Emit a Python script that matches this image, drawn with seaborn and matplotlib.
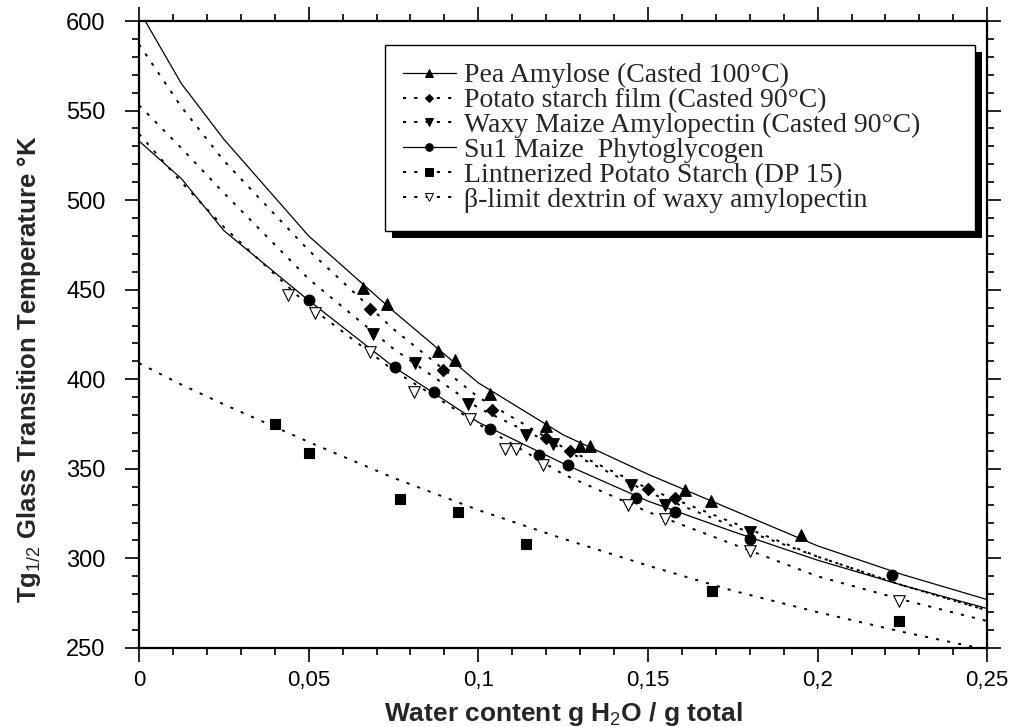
import numpy as np
import pandas as pd
import matplotlib
matplotlib.use('Agg')
import matplotlib.pyplot as plt
import seaborn as sns
from matplotlib.lines import Line2D
from matplotlib.patches import Rectangle
from matplotlib.ticker import FixedLocator, MultipleLocator

# --- fitted curves ---
curve_x = [0, 0.0125, 0.025, 0.05, 0.075, 0.1, 0.125, 0.15, 0.175, 0.2, 0.225, 0.25]
pea_curve = [606, 565, 534, 480, 438, 398, 369, 347, 327, 307, 291, 277]
potato_curve = [587, 552, 522, 472, 428, 390, 362, 339, 320, 301, 285, 271]
waxy_curve = [553, 529, 504, 456, 417, 384, 361, 337, 318, 301, 285, 271]
su1_curve = [533, 512, 483, 444, 407, 376, 353, 332, 315, 299, 285, 272]
lint_curve = [409, 397, 386, 365, 345, 327, 311, 296, 282, 270, 259, 249]
beta_curve = [537, 510, 485, 441, 405, 375, 347, 326, 308, 290, 277, 265]

# --- measured points ---
pea_x = [0.066, 0.073, 0.088, 0.093, 0.1035, 0.12, 0.13, 0.133, 0.161, 0.1685, 0.195]
pea_y = [451, 442, 416, 411, 392, 374, 363, 363, 338, 332, 313]
potato_x = [0.068, 0.0895, 0.104, 0.12, 0.127, 0.150, 0.158]
potato_y = [439, 405, 383, 367, 360, 339, 334]
waxy_x = [0.069, 0.0814, 0.097, 0.114, 0.122, 0.145, 0.155, 0.180]
waxy_y = [425, 409, 386, 369, 364, 341, 330, 315]
su1_x = [0.050, 0.0755, 0.087, 0.1035, 0.118, 0.1265, 0.1465, 0.158, 0.180, 0.222]
su1_y = [444, 407, 393, 372, 358, 352, 334, 326, 311, 291]
lint_x = [0.040, 0.050, 0.077, 0.094, 0.114, 0.169, 0.224]
lint_y = [375, 359, 333, 326, 308, 282, 265]
beta_x = [0.044, 0.052, 0.068, 0.081, 0.0975, 0.108, 0.111, 0.119, 0.144, 0.155, 0.180, 0.224]
beta_y = [447, 437, 415, 393, 378, 361, 361, 352, 330, 322, 304, 276]

labels = ["Pea Amylose (Casted 100°C)", "Potato starch film (Casted 90°C)",
          "Waxy Maize Amylopectin (Casted 90°C)", "Su1 Maize  Phytoglycogen",
          "Lintnerized Potato Starch (DP 15)", "β-limit dextrin of waxy amylopectin"]

xtick_vals = [0, 0.05, 0.1, 0.15, 0.2, 0.25]
xtick_labels = ["0", "0,05", "0,1", "0,15", "0,2", "0,25"]
ytick_vals = [250, 300, 350, 400, 450, 500, 550, 600]

sns.set_theme(style="ticks")
plt.rcParams['font.family'] = ['Liberation Sans', 'DejaVu Sans']
plt.rcParams['mathtext.fontset'] = 'custom'
plt.rcParams['mathtext.rm'] = 'Liberation Sans'
plt.rcParams['mathtext.bf'] = 'Liberation Sans:bold'

fig = plt.figure(figsize=(10.11, 7.27), dpi=100)
ax = fig.add_axes([0.1375, 0.1087, 0.839, 0.8624])

dot = (0, (1.6, 4.2))
series = [
    (curve_x, pea_curve, pea_x, pea_y, '-', '^', 'black'),
    (curve_x, potato_curve, potato_x, potato_y, dot, 'D', 'black'),
    (curve_x, waxy_curve, waxy_x, waxy_y, dot, 'v', 'black'),
    (curve_x, su1_curve, su1_x, su1_y, '-', 'o', 'black'),
    (curve_x, lint_curve, lint_x, lint_y, dot, 's', 'black'),
    (curve_x, beta_curve, beta_x, beta_y, dot, 'v', 'white'),
]
msizes = {'^': 70, 'D': 38, 'v': 70, 'o': 60, 's': 60}

handles = []
for cx, cy, px, py, ls, mk, fc in series:
    lw = 0.9 if ls == '-' else 1.4
    sns.lineplot(x=cx, y=cy, ax=ax, color='black', linewidth=lw, linestyle=ls,
                 estimator=None, sort=False)
    sns.scatterplot(x=px, y=py, ax=ax, marker=mk, s=msizes[mk], color=fc,
                    edgecolor='black', linewidth=0.8, zorder=3)
    handles.append(Line2D([0], [0], color='black', linewidth=lw, linestyle=ls,
                          marker=mk, markersize=5.5 if mk != 'D' else 4.5,
                          markerfacecolor=fc, markeredgecolor='black', markeredgewidth=0.7))

ax.set_xlim(0, 0.25)
ax.set_ylim(250, 600)
ax.xaxis.set_major_locator(FixedLocator(xtick_vals))
ax.set_xticklabels(xtick_labels)
ax.xaxis.set_minor_locator(MultipleLocator(0.01))
ax.yaxis.set_major_locator(FixedLocator(ytick_vals))
ax.yaxis.set_minor_locator(MultipleLocator(10))
ax.tick_params(which='both', direction='out', top=True, right=True, width=1.2,
               colors='black')
ax.tick_params(axis='y', labelsize=17, pad=14)
ax.tick_params(axis='x', labelsize=16, pad=6)
ax.tick_params(which='major', length=10)
ax.tick_params(which='minor', length=5)
for sp in ax.spines.values():
    sp.set_linewidth(1.6)
    sp.set_color('black')

ax.set_xlabel(r"Water content g H$_{2}$O / g total", fontsize=19, fontweight='bold', labelpad=6)
ax.set_ylabel(r"Tg$_{1/2}$ Glass Transition Temperature °K", fontsize=18.5, fontweight='bold')
ax.yaxis.set_label_coords(-0.113, 0.445)

# legend box stretched to the width used in the original
leg = ax.legend(handles, labels, loc='upper left', mode='expand',
                bbox_to_anchor=(0.290, 0.962, 0.696, 0.0),
                prop={'family': 'Liberation Serif', 'size': 20}, frameon=True,
                fancybox=False, handlelength=1.9, handletextpad=0.3, framealpha=1,
                labelspacing=-0.02, borderpad=0.65, borderaxespad=0)
leg.get_frame().set_edgecolor('black')
leg.get_frame().set_facecolor('white')
leg.get_frame().set_linewidth(1.0)
leg.set_zorder(10)

# heavy drop shadow behind the legend box
fig.canvas.draw()
bb = leg.get_window_extent().transformed(fig.transFigure.inverted())
off = 0.007
shadow = Rectangle((bb.x0 + off, bb.y0 - off * 1.4), bb.width, bb.height,
                   transform=fig.transFigure, facecolor='black', edgecolor='none', zorder=9)
ax.add_artist(shadow)
shadow.set_clip_on(False)

fig.savefig("out.png", dpi=100)
